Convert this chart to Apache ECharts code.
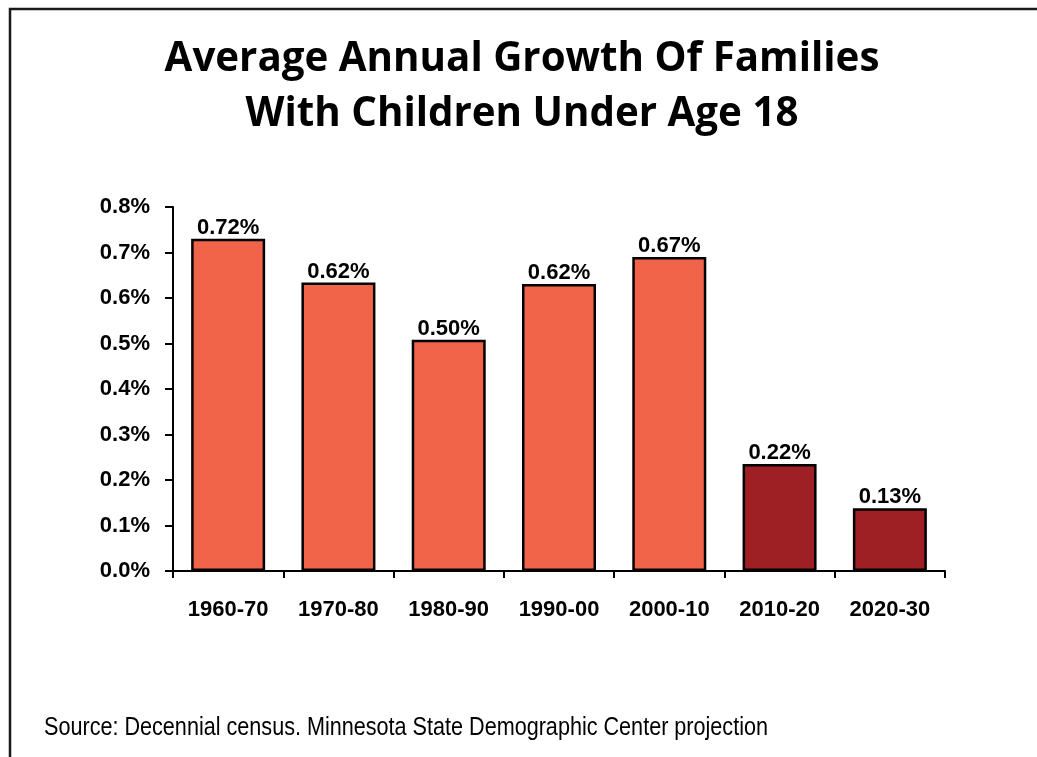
<!DOCTYPE html>
<html>
<head>
<meta charset="utf-8">
<script src="https://cdn.jsdelivr.net/npm/echarts@6/dist/echarts.min.js"></script>
<style>
  html, body { margin: 0; padding: 0; background: #fff; }
  #chart { width: 1037px; height: 757px; }
</style>
</head>
<body>
<div id="chart"></div>
<script>
// Data
const categories = ['1960-70', '1970-80', '1980-90', '1990-00', '2000-10', '2010-20', '2020-30'];
// bar heights as drawn in the reference
const growthValues = [0.730, 0.634, 0.508, 0.631, 0.690, 0.235, 0.138];
// value labels as printed in the reference
const valueLabels = ['0.72%', '0.62%', '0.50%', '0.62%', '0.67%', '0.22%', '0.13%'];
// census vs projection
const isProjection = [false, false, false, false, false, true, true];
const yTicks = [0, 0.1, 0.2, 0.3, 0.4, 0.5, 0.6, 0.7, 0.8];

const titleLines = ['Average Annual Growth Of Families', 'With Children Under Age 18'];
const sourceText = 'Source: Decennial census. Minnesota State Demographic Center projection';

const COLOR_CENSUS = '#F26449';
const COLOR_PROJ = '#9E2024';
const LABEL_FONT = '"Liberation Sans", Arial, sans-serif';

const chart = echarts.init(document.getElementById('chart'), null, { renderer: 'canvas' });

const option = {
  backgroundColor: '#ffffff',
  animation: false,
  title: {
    text: titleLines.join('\n'),
    left: 517,
    textAlign: 'center',
    top: 27,
    textStyle: {
      fontFamily: 'Open Sans',
      fontWeight: 'bold',
      fontSize: 40.3,
      lineHeight: 55,
      color: '#000'
    }
  },
  grid: { left: 173, right: 92, top: 207, bottom: 186, containLabel: false },
  xAxis: {
    type: 'category',
    data: categories,
    axisLine: { show: true, lineStyle: { color: '#000', width: 2 } },
    axisTick: { show: true, alignWithLabel: false, length: 7, lineStyle: { color: '#000', width: 2 } },
    axisLabel: {
      margin: 28,
      color: '#000',
      fontFamily: LABEL_FONT,
      fontWeight: 'bold',
      fontSize: 22
    },
    splitLine: { show: false }
  },
  yAxis: {
    type: 'value',
    min: yTicks[0],
    max: yTicks[yTicks.length - 1],
    interval: 0.1,
    axisLine: { show: true, lineStyle: { color: '#000', width: 2 } },
    axisTick: { show: true, length: 8, lineStyle: { color: '#000', width: 2 } },
    axisLabel: {
      margin: 23,
      color: '#000',
      fontFamily: LABEL_FONT,
      fontWeight: 'bold',
      fontSize: 22,
      formatter: v => v.toFixed(1) + '%'
    },
    splitLine: { show: false }
  },
  series: [{
    type: 'bar',
    barWidth: 74,
    data: growthValues.map((v, i) => ({
      value: v,
      itemStyle: { color: isProjection[i] ? COLOR_PROJ : COLOR_CENSUS }
    })),
    itemStyle: { borderColor: '#000', borderWidth: 2.5 },
    label: {
      show: true,
      position: 'top',
      distance: 0,
      color: '#000',
      fontFamily: LABEL_FONT,
      fontWeight: 'bold',
      fontSize: 22,
      formatter: p => valueLabels[p.dataIndex]
    }
  }],
  graphic: [
    {
      type: 'rect',
      silent: true,
      shape: { x: 10, y: 9, width: 1200, height: 900 },
      style: { fill: 'none', stroke: '#1a1a1a', lineWidth: 2.5 }
    },
    {
      type: 'text',
      x: 44,
      y: 728,
      scaleX: 0.864,
      style: {
        text: sourceText,
        fontFamily: '"Liberation Sans", sans-serif',
        fontSize: 25,
        verticalAlign: 'middle',
        fill: '#000'
      }
    }
  ]
};

chart.setOption(option);
</script>
</body>
</html>
